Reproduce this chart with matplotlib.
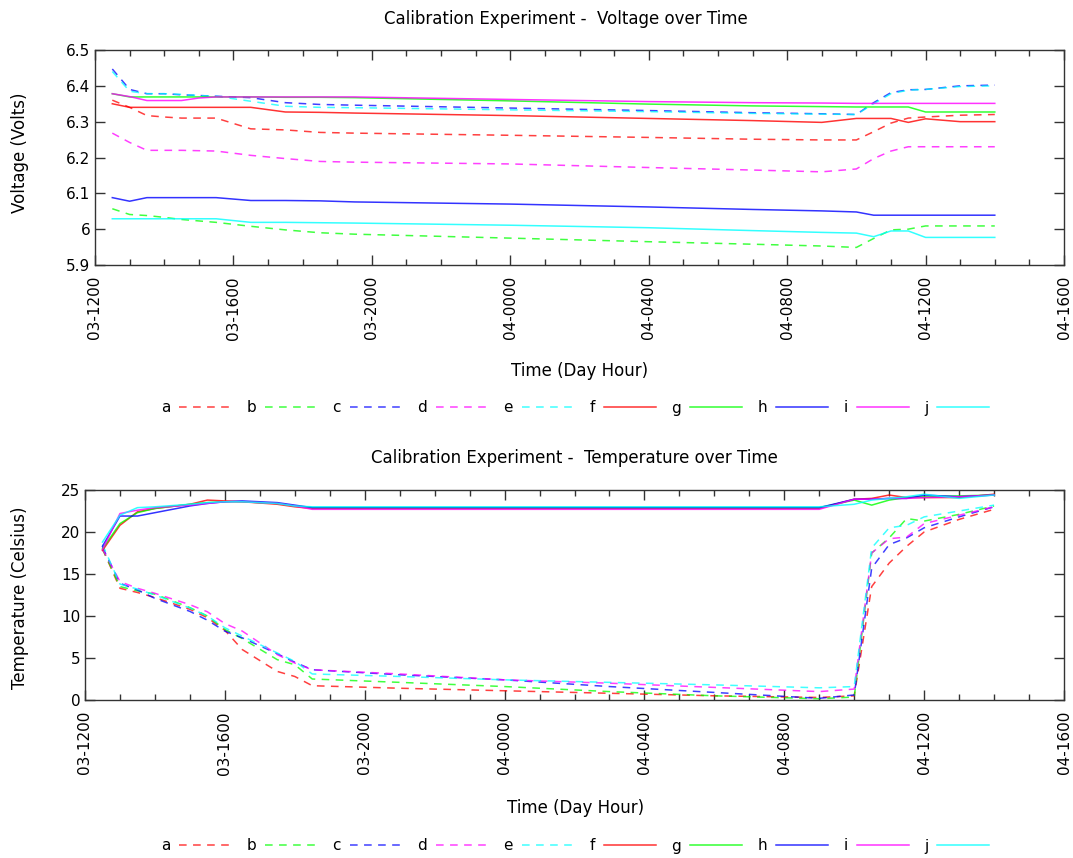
import matplotlib
matplotlib.use("Agg")
import matplotlib.pyplot as plt
from matplotlib.ticker import MultipleLocator, FixedLocator, FixedFormatter

# ---------------- data ----------------
series_names = ["a", "b", "c", "d", "e", "f", "g", "h", "i", "j"]
series_colors = ["#ff0000", "#00ff00", "#0000ff", "#ff00ff", "#00ffff",
                 "#ff0000", "#00ff00", "#0000ff", "#ff00ff", "#00ffff"]
series_dashed = [True, True, True, True, True, False, False, False, False, False]

# hours since 03-1200
volt_hours = [0.5, 1.0, 1.5, 2.0, 2.5, 3.0, 3.5, 4.5, 5.5, 6.5, 7.5, 12, 16, 19, 21, 22, 22.5, 23, 23.5, 24, 25, 26]
volt_a = [6.36, 6.34, 6.317, 6.313, 6.31, 6.31, 6.31, 6.28, 6.277, 6.27, 6.268, 6.262, 6.256, 6.251, 6.249, 6.249, 6.272, 6.296, 6.31, 6.313, 6.318, 6.32]
volt_b = [6.057, 6.041, 6.038, 6.033, 6.027, 6.023, 6.019, 6.008, 5.998, 5.99, 5.986, 5.975, 5.965, 5.958, 5.953, 5.949, 5.974, 5.998, 6.0, 6.009, 6.009, 6.009]
volt_c = [6.447, 6.39, 6.378, 6.378, 6.375, 6.373, 6.371, 6.367, 6.353, 6.348, 6.346, 6.338, 6.331, 6.325, 6.322, 6.32, 6.353, 6.381, 6.389, 6.39, 6.4, 6.402]
volt_d = [6.268, 6.242, 6.22, 6.22, 6.22, 6.219, 6.218, 6.206, 6.197, 6.189, 6.187, 6.182, 6.172, 6.165, 6.16, 6.168, 6.197, 6.218, 6.23, 6.23, 6.23, 6.23]
volt_e = [6.44, 6.385, 6.378, 6.378, 6.376, 6.373, 6.371, 6.357, 6.343, 6.34, 6.339, 6.333, 6.328, 6.323, 6.321, 6.32, 6.35, 6.378, 6.388, 6.39, 6.398, 6.4]
volt_f = [6.35, 6.34, 6.34, 6.34, 6.34, 6.34, 6.34, 6.34, 6.327, 6.326, 6.324, 6.317, 6.309, 6.303, 6.298, 6.309, 6.309, 6.309, 6.298, 6.308, 6.3, 6.3]
volt_g = [6.378, 6.369, 6.369, 6.369, 6.369, 6.369, 6.369, 6.369, 6.368, 6.368, 6.367, 6.358, 6.349, 6.344, 6.342, 6.341, 6.341, 6.341, 6.341, 6.327, 6.327, 6.327]
volt_h = [6.088, 6.078, 6.088, 6.088, 6.088, 6.088, 6.088, 6.08, 6.08, 6.079, 6.076, 6.07, 6.062, 6.055, 6.051, 6.048, 6.039, 6.039, 6.039, 6.039, 6.039, 6.039]
volt_i = [6.378, 6.37, 6.359, 6.359, 6.359, 6.366, 6.369, 6.369, 6.369, 6.369, 6.369, 6.362, 6.356, 6.353, 6.352, 6.351, 6.351, 6.351, 6.351, 6.351, 6.351, 6.351]
volt_j = [6.029, 6.029, 6.029, 6.029, 6.029, 6.029, 6.029, 6.019, 6.019, 6.018, 6.017, 6.011, 6.004, 5.996, 5.991, 5.989, 5.979, 5.995, 5.995, 5.977, 5.977, 5.977]

temp_hours = [0.5, 1.0, 1.5, 2.0, 3.0, 3.5, 4.0, 4.5, 5.5, 6.0, 6.5, 9, 12, 15, 18, 21, 22, 22.5, 23, 23.5, 24, 25, 26]
temp_a = [18.0, 13.3, 12.8, 12.2, 10.8, 9.8, 8.3, 6.0, 3.4, 2.8, 1.7, 1.4, 1.1, 0.8, 0.5, 0.3, 0.5, 13.5, 16.3, 18.3, 20.0, 21.5, 22.7]
temp_b = [18.0, 13.5, 13.0, 12.6, 11.0, 10.0, 8.4, 7.3, 4.8, 4.2, 2.5, 2.1, 1.6, 1.0, 0.5, 0.15, 0.35, 17.5, 19.3, 21.6, 21.3, 22.1, 23.1]
temp_c = [18.2, 13.9, 13.1, 12.1, 10.55, 9.5, 8.2, 7.4, 5.5, 4.5, 3.6, 3.0, 2.4, 1.6, 0.9, 0.2, 0.6, 15.7, 18.5, 19.3, 20.5, 21.8, 23.0]
temp_d = [18.0, 14.1, 13.3, 12.7, 11.35, 10.5, 9.1, 8.2, 5.4, 4.4, 3.6, 3.1, 2.4, 2.0, 1.5, 1.0, 1.3, 17.5, 19.2, 19.4, 21.0, 22.0, 23.0]
temp_e = [18.5, 13.8, 13.2, 12.5, 10.95, 10.0, 8.6, 7.6, 5.6, 4.6, 3.1, 2.8, 2.4, 2.1, 1.8, 1.45, 1.6, 18.1, 20.5, 20.8, 21.8, 22.5, 23.2]
temp_f = [17.8, 20.8, 22.4, 22.8, 23.3, 23.8, 23.7, 23.6, 23.3, 23.0, 22.8, 22.8, 22.8, 22.8, 22.8, 22.8, 23.9, 24.0, 24.4, 24.1, 24.1, 24.1, 24.5]
temp_g = [18.0, 21.0, 22.3, 22.8, 23.3, 23.5, 23.6, 23.6, 23.4, 23.1, 22.9, 22.9, 22.9, 22.9, 22.9, 22.9, 23.8, 23.2, 23.8, 24.1, 24.2, 24.3, 24.4]
temp_h = [18.3, 21.9, 21.9, 22.3, 23.1, 23.4, 23.6, 23.7, 23.5, 23.2, 22.9, 22.9, 22.9, 22.9, 22.9, 22.9, 23.9, 23.9, 24.0, 24.0, 24.4, 24.2, 24.4]
temp_i = [17.9, 22.2, 22.6, 22.9, 23.2, 23.4, 23.6, 23.6, 23.4, 23.1, 22.7, 22.7, 22.7, 22.7, 22.7, 22.7, 23.9, 23.9, 24.0, 24.0, 24.1, 24.2, 24.4]
temp_j = [18.8, 22.0, 22.9, 23.0, 23.3, 23.5, 23.6, 23.6, 23.4, 23.1, 23.0, 23.0, 23.0, 23.0, 23.0, 23.0, 23.3, 23.8, 24.0, 24.2, 24.5, 24.0, 24.4]

xtick_hours = [0, 4, 8, 12, 16, 20, 24, 28]
xtick_labels = ["03-1200", "03-1600", "03-2000", "04-0000", "04-0400", "04-0800", "04-1200", "04-1600"]
volt_ticks = [5.9, 6.0, 6.1, 6.2, 6.3, 6.4, 6.5]
volt_tick_labels = ["5.9", "6", "6.1", "6.2", "6.3", "6.4", "6.5"]
temp_ticks = [0, 5, 10, 15, 20, 25]

volt_series = [volt_a, volt_b, volt_c, volt_d, volt_e, volt_f, volt_g, volt_h, volt_i, volt_j]
temp_series = [temp_a, temp_b, temp_c, temp_d, temp_e, temp_f, temp_g, temp_h, temp_i, temp_j]

# ---------------- figure ----------------
plt.rcParams["font.family"] = ["DejaVu Sans"]
W, H = 1073, 858
fig = plt.figure(figsize=(W / 100, H / 100), dpi=100)


def px_axes(left, top, right, bottom):
    return fig.add_axes([left / W, 1 - bottom / H, (right - left) / W, (bottom - top) / H])


def style_axes(ax, yticks, ylabels, ylim):
    ax.set_xlim(0, 28)
    ax.set_ylim(*ylim)
    ax.xaxis.set_major_locator(FixedLocator(xtick_hours))
    ax.xaxis.set_major_formatter(FixedFormatter(xtick_labels))
    ax.xaxis.set_minor_locator(MultipleLocator(1))
    ax.yaxis.set_major_locator(FixedLocator(yticks))
    ax.yaxis.set_major_formatter(FixedFormatter(ylabels))
    ax.tick_params(axis="both", which="both", direction="in", top=True, right=True,
                   color="#333333", labelsize=11)
    ax.tick_params(axis="both", which="major", length=7, width=1)
    ax.tick_params(axis="both", which="minor", length=4, width=1)
    ax.tick_params(axis="x", which="major", labelrotation=90, pad=8)
    for lbl in ax.get_xticklabels():
        lbl.set_va("top")
    for sp in ax.spines.values():
        sp.set_color("#333333")
        sp.set_linewidth(1.0)


def draw(ax, hours, data):
    handles = []
    for name, col, dashed, vals in zip(series_names, series_colors, series_dashed, data):
        if dashed:
            ln, = ax.plot(hours, vals, color=col, lw=1.1, alpha=0.75, dashes=(5, 4.2), label=name)
        else:
            ln, = ax.plot(hours, vals, color=col, lw=1.1, alpha=0.8, label=name)
        handles.append(ln)
    return handles


ax1 = px_axes(95, 50, 1064, 265)
h1 = draw(ax1, volt_hours, volt_series)
style_axes(ax1, volt_ticks, volt_tick_labels, (5.9, 6.5))

ax2 = px_axes(85, 490, 1064, 700)
h2 = draw(ax2, temp_hours, temp_series)
style_axes(ax2, temp_ticks, [str(t) for t in temp_ticks], (0, 25))

fig.text(566 / W, 1 - 19 / H, "Calibration Experiment -  Voltage over Time", ha="center", va="center", fontsize=12)
fig.text(574 / W, 1 - 458 / H, "Calibration Experiment -  Temperature over Time", ha="center", va="center", fontsize=12)
fig.text(580 / W, 1 - 371 / H, "Time (Day Hour)", ha="center", va="center", fontsize=12)
fig.text(576 / W, 1 - 808 / H, "Time (Day Hour)", ha="center", va="center", fontsize=12)
fig.text(20 / W, 1 - 153 / H, "Voltage (Volts)", ha="center", va="center", rotation=90, fontsize=12)
fig.text(20 / W, 1 - 598 / H, "Temperature (Celsius)", ha="center", va="center", rotation=90, fontsize=12)

for handles, ycen in ((h1, 408), (h2, 846)):
    fig.legend(handles=handles, labels=series_names, loc="center", bbox_to_anchor=(575 / W, 1 - ycen / H),
               ncol=10, frameon=False, markerfirst=False, fontsize=11, handlelength=3.4,
               handletextpad=0.6, columnspacing=1.0, borderpad=0)

fig.savefig("out.png", dpi=100)
